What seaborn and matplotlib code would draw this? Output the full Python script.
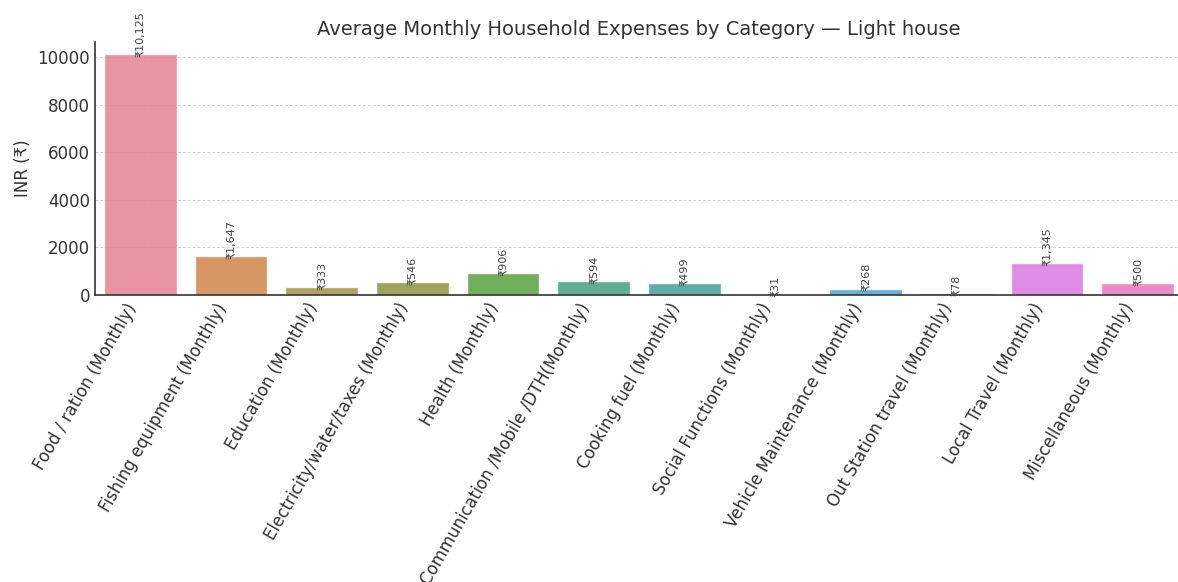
import matplotlib
matplotlib.use("Agg")
import matplotlib.pyplot as plt
import seaborn as sns
import pandas as pd

categories = [
    "Food / ration (Monthly)",
    "Fishing equipment (Monthly)",
    "Education (Monthly)",
    "Electricity/water/taxes (Monthly)",
    "Health (Monthly)",
    "Communication /Mobile /DTH(Monthly)",
    "Cooking fuel (Monthly)",
    "Social Functions (Monthly)",
    "Vehicle Maintenance (Monthly)",
    "Out Station travel (Monthly)",
    "Local Travel (Monthly)",
    "Miscellaneous (Monthly)",
]
amounts = [10125, 1647, 333, 546, 906, 594, 499, 31, 268, 78, 1345, 500]

df = pd.DataFrame({"Category": categories, "Amount": amounts})

sns.set_theme(style="white")
plt.rcParams["font.family"] = ["DejaVu Sans"]

fig = plt.figure(figsize=(11.78, 5.82), dpi=100)
ax = fig.add_axes([95 / 1178, (582 - 295) / 582, (1183 - 95) / 1178, (295 - 42) / 582])

sns.barplot(data=df, x="Category", y="Amount", hue="Category",
            palette="husl", legend=False, ax=ax, alpha=0.85, zorder=1)

ax.set_title("Average Monthly Household Expenses by Category — Light house",
             fontsize=14, color="#333333", pad=5)
ax.set_xlabel("")
ax.set_ylabel("INR (₹)", fontsize=12, color="#333333", labelpad=4)

for i, v in enumerate(amounts):
    ax.annotate(f"₹{v:,}", (i, v), xytext=(0, -2), textcoords="offset points",
                rotation=90, ha="center", va="bottom",
                fontsize=8, color="#444444", zorder=3)

ax.set_xticks(range(len(categories)))
ax.set_xticklabels(categories, rotation=60, ha="right",
                   fontsize=12, color="#333333")
ax.tick_params(axis="y", labelsize=12, labelcolor="#333333")
ax.tick_params(axis="both", direction="in", length=4, color="#333333", width=1)

# dashed horizontal guides sit behind the bars; ticks stay on top
ax.set_axisbelow("line")
ax.grid(False)
for yv in ax.get_yticks()[1:]:
    if yv <= ax.get_ylim()[1]:
        ax.axhline(yv, linestyle=(0, (3, 2)), color="#cfcfcf", linewidth=0.7, zorder=0.5)

sns.despine(ax=ax)
for s in ("left", "bottom"):
    ax.spines[s].set_color("#333333")
    ax.spines[s].set_linewidth(1.2)

fig.savefig("out.png", dpi=100)
